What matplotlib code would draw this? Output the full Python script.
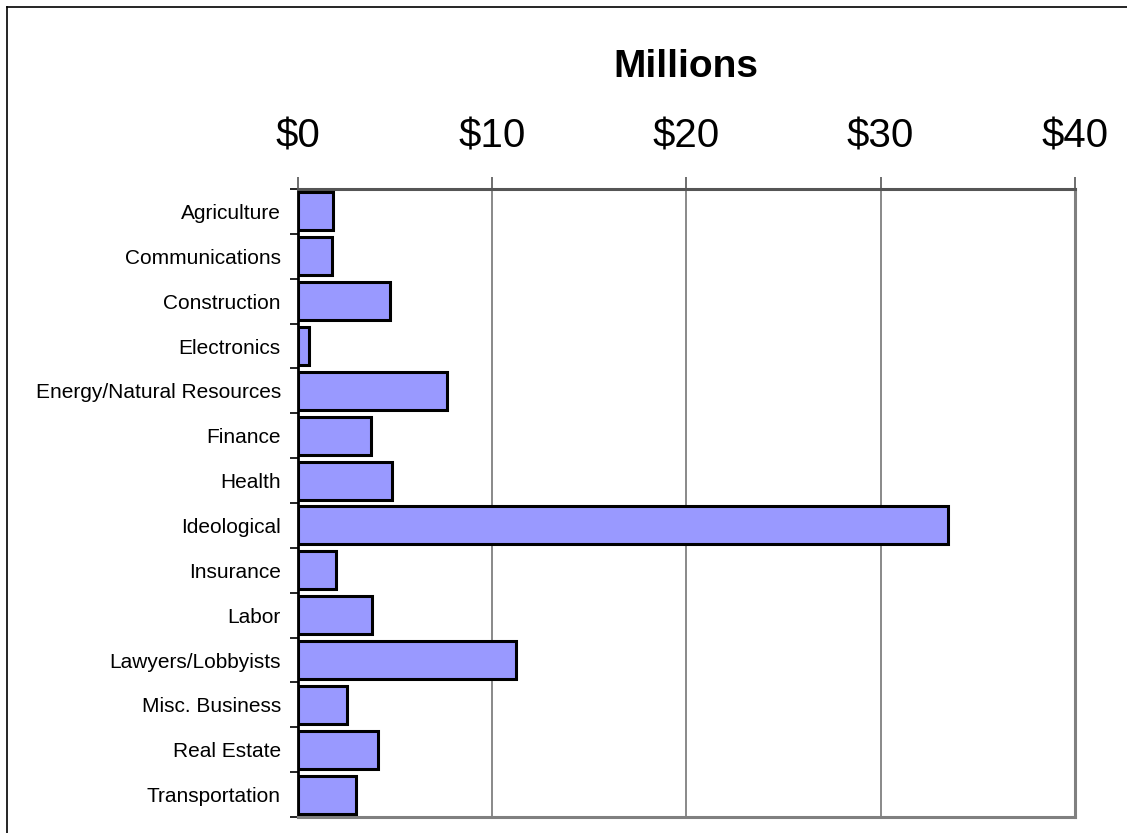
import matplotlib
matplotlib.use("Agg")
import matplotlib.pyplot as plt
from matplotlib.lines import Line2D
import numpy as np

categories = ["Agriculture", "Communications", "Construction", "Electronics",
              "Energy/Natural Resources", "Finance", "Health", "Ideological",
              "Insurance", "Labor", "Lawyers/Lobbyists", "Misc. Business",
              "Real Estate", "Transportation"]
values = [1.84, 1.76, 4.74, 0.57, 7.67, 3.76, 4.84, 33.46, 2.0, 3.81, 11.22, 2.57, 4.16, 3.01]
tick_values = [0, 10, 20, 30, 40]
tick_labels = ["$0", "$10", "$20", "$30", "$40"]

plt.rcParams['font.family'] = ['Liberation Sans', 'DejaVu Sans']

W, H = 1127, 833
fig = plt.figure(figsize=(W / 100, H / 100), dpi=100)
ax = fig.add_axes([297.5 / W, 1 - 817 / H, (1075 - 297.5) / W, (817 - 189) / H])

y = np.arange(len(categories))
ax.barh(y, values, height=0.85, color="#9999FF", edgecolor="black", linewidth=2.2, zorder=3)
ax.set_ylim(len(categories) - 0.5, -0.5)
ax.set_xlim(0, 40)

ax.xaxis.tick_top()
ax.set_xticks(tick_values)
ax.set_xticklabels(tick_labels, fontsize=29)
ax.tick_params(axis="x", which="major", length=9, width=1.2, color="#555555", pad=15)
ax.grid(axis="x", color="#808080", linewidth=1.3, zorder=0)

ax.set_yticks(y)
ax.set_yticklabels(categories, fontsize=15)
ax.tick_params(axis="y", which="major", length=0, pad=12)
ax.set_yticks(np.arange(len(categories) + 1) - 0.5, minor=True)
ax.tick_params(axis="y", which="minor", length=6, width=1.2, color="black")

ax.spines["top"].set_color("#555555")
ax.spines["top"].set_linewidth(2.2)
ax.spines["left"].set_color("black")
ax.spines["left"].set_linewidth(2.0)
ax.spines["right"].set_color("#808080")
ax.spines["right"].set_linewidth(2.2)
ax.spines["bottom"].set_color("#808080")
ax.spines["bottom"].set_linewidth(2.2)

fig.text((297.5 + 1075) / 2 / W, 1 - 77 / H, "Millions", fontsize=28, fontweight="bold",
         ha="center", va="baseline")

fig.add_artist(Line2D([6.5 / W, 1.0], [1 - 6.5 / H, 1 - 6.5 / H], color="black", linewidth=1.2,
                      transform=fig.transFigure))
fig.add_artist(Line2D([6.5 / W, 6.5 / W], [0, 1 - 6.5 / H], color="black", linewidth=1.2,
                      transform=fig.transFigure))

fig.savefig("out.png", dpi=100)
